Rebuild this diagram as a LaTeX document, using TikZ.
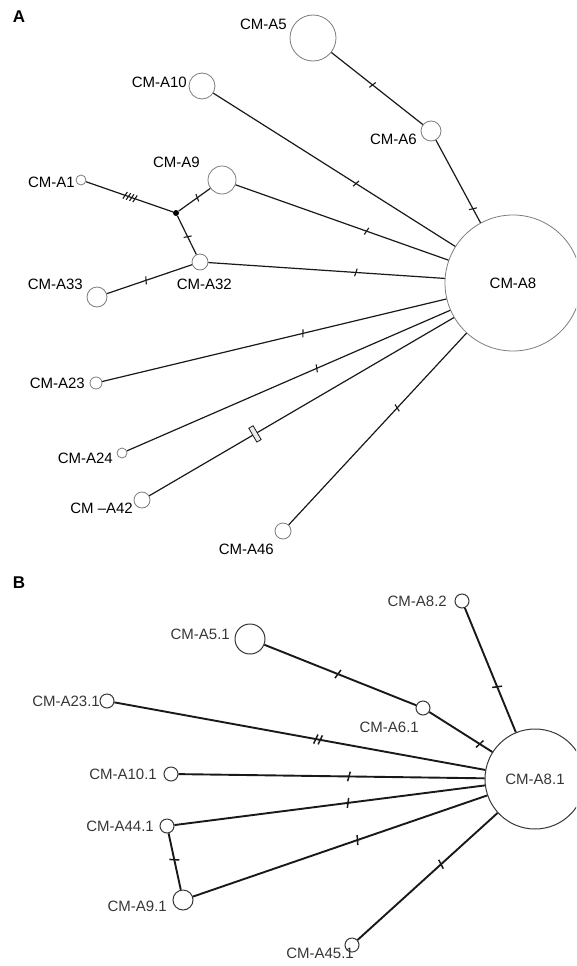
\documentclass[tikz,border=0pt]{standalone}
\usepackage{fontspec}
\setmainfont{Liberation Sans}
\usepackage{tikz}
\usetikzlibrary{positioning}
\definecolor{ringgray}{RGB}{125,125,125}
\definecolor{inkgray}{RGB}{55,55,55}

\begin{document}
\begin{tikzpicture}[x=1pt, y=-1pt,
  hap/.style={circle, draw=ringgray, line width=0.8pt, fill=white, inner sep=0pt},
  mv/.style={circle, fill=black, inner sep=0pt, minimum size=6pt},
  lbl/.style={inner sep=0pt, font=\fontsize{15}{18}\selectfont},
  edgeA/.style={line width=1.2pt, black!90},
  edgeB/.style={line width=1.9pt, black!90},
  tick/.style={sloped, rotate=-15, draw, inner sep=0pt, minimum width=0pt, minimum height=8pt, line width=1.1pt},
  tickB/.style={tick, minimum height=10pt, line width=1.5pt},
  bar/.style={sloped, draw, fill=gray!15, inner sep=0pt, minimum width=5pt, minimum height=16pt, line width=0.8pt}]
  \clip (0,0) rectangle (576,966);

  % panel A
  \node[font=\fontsize{17}{20}\selectfont\bfseries] (pA) at (19,17) {A};
  \foreach \n/\x/\y/\d in {a5/313/38/46, a6/431/131/20, a10/202/86/26, a1/81/180/10,
      a9/222/180/28, a32/200/262/16, a33/97/297/20, a23/96/383/12,
      a24/122/453/10, a42/142/500/16, a46/283/531/16} {
    \node[hap, minimum size=\d pt] (\n) at (\x,\y) {};
  }
  \node[hap, minimum size=136pt, lbl] (a8) at (513,283) {CM-A8};
  \node[mv] (m1) at (176,213) {};
  \foreach \n/\x/\y/\t in {A5/287/24/CM-A5, A10/187/82/CM-A10, A9/200/162/CM-A9,
      A1/75/182/CM-A1, A6/417/139/CM-A6, A33/83/284/CM-A33, A32/232/284/CM-A32,
      A23/85/383/CM-A23, A24/113/458/CM-A24, A42/133/508/CM –A42, A46/274/549/CM-A46} {
    \node[lbl, anchor=east] (l\n) at (\x,\y) {\t};
  }

  \draw[edgeA] (a5) -- node[tick, pos=.45]{} (a6);
  \draw[edgeA] (a6) -- node[tick, pos=.83]{} (a8);
  \draw[edgeA] (a10) -- node[tick, pos=.59]{} (a8);
  \draw[edgeA] (a9) -- node[tick, pos=.615]{} (a8);
  \draw[edgeA] (a32) -- node[tick, pos=.624]{} (a8);
  \draw[edgeA] (a1) -- node[tick, pos=.449]{} node[tick, pos=.487]{}
    node[tick, pos=.525]{} node[tick, pos=.563]{} (m1);
  \draw[edgeA] (m1) -- node[tick, pos=.59]{} (a9);
  \draw[edgeA] (m1) -- node[tick, pos=.54]{} (a32);
  \draw[edgeA] (a33) -- node[tick, pos=.46]{} (a32);
  \draw[edgeA] (a23) -- node[tick, pos=.583]{} (a8);
  \draw[edgeA] (a24) -- node[tick, pos=.587]{} (a8);
  \draw[edgeA] (a42) -- node[bar, pos=.347]{} (a8);
  \draw[edgeA] (a46) -- node[tick, pos=.61]{} (a8);

  % panel B
  \node[font=\fontsize{17}{20}\selectfont\bfseries] (pB) at (19,583) {B};
  \foreach \n/\x/\y/\d in {b82/462/601/14, b51/250/639/30, b61/423/708/14,
      b231/107/701/14, b101/171/774/14, b441/167/826/14, b91/183/900/20,
      b451/352/945/14} {
    \node[hap, draw=inkgray, line width=1pt, minimum size=\d pt] (\n) at (\x,\y) {};
  }
  \node[hap, draw=inkgray, line width=1pt, minimum size=100pt, lbl, text=inkgray] (b81) at (535,779) {CM-A8.1};
  \foreach \n/\x/\y/\t in {B82/447/601/CM-A8.2, B51/230/634/CM-A5.1, B61/419/727/CM-A6.1,
      B231/100/701/CM-A23.1, B101/157/774/CM-A10.1, B441/154/826/CM-A44.1,
      B91/167/906/CM-A9.1, B451/354/953/CM-A45.1} {
    \node[lbl, anchor=east, text=inkgray] (l\n) at (\x,\y) {\t};
  }

  \draw[edgeB] (b82) -- node[tickB, pos=.634]{} (b81);
  \draw[edgeB] (b51) -- node[tickB, pos=.485]{} (b61);
  \draw[edgeB] (b61) -- node[tickB, pos=.80]{} (b81);
  \draw[edgeB] (b231) -- node[tickB, pos=.543]{} node[tickB, pos=.555]{} (b81);
  \draw[edgeB] (b101) -- node[tickB, pos=.557]{} (b81);
  \draw[edgeB] (b441) -- node[tickB, pos=.559]{} (b81);
  \draw[edgeB] (b91) -- node[tickB, pos=.559]{} (b81);
  \draw[edgeB] (b441) -- node[tickB, pos=.467]{} (b91);
  \draw[edgeB] (b451) -- node[tickB, pos=.596]{} (b81);
\end{tikzpicture}
\end{document}
